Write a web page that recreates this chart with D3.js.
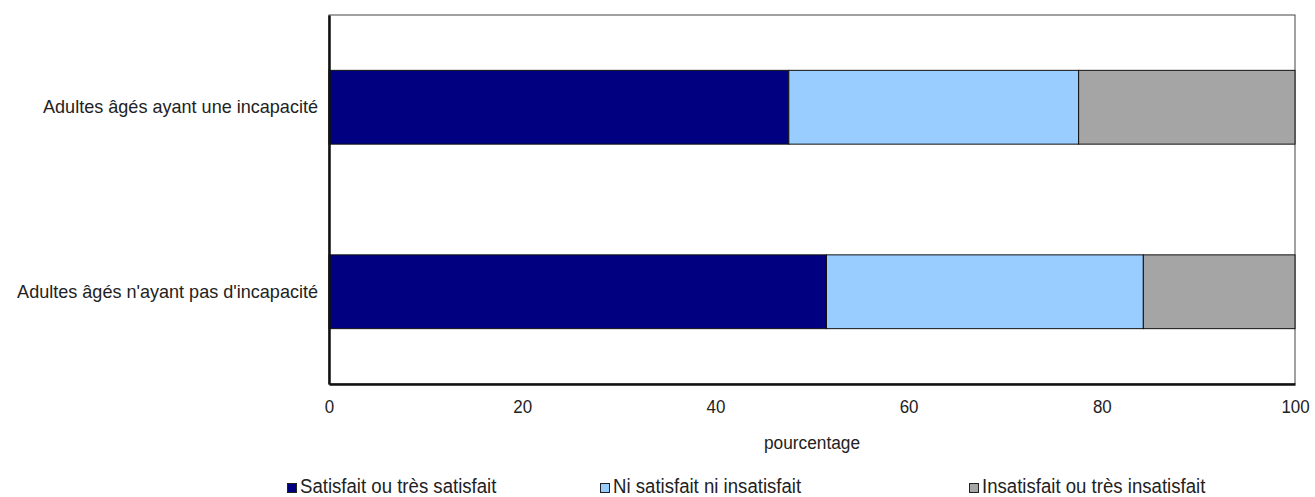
<!DOCTYPE html>
<html>
<head>
<meta charset="utf-8">
<script src="https://cdn.jsdelivr.net/npm/d3@7"></script>
<style>
  html, body { margin: 0; padding: 0; background: #fff; }
  svg text { font-family: "Liberation Sans", Arial, sans-serif; fill: #222; }
</style>
</head>
<body>
<svg id="chart" width="1315" height="497"></svg>
<script>
// Satisfaction levels by disability status (percent)
const categories = ["Adultes âgés ayant une incapacité", "Adultes âgés n'ayant pas d'incapacité"];
const seriesNames = ["Satisfait ou très satisfait", "Ni satisfait ni insatisfait", "Insatisfait ou très insatisfait"];
const satisfied = [47.6, 51.5];
const neutral = [30.0, 32.8];
const dissatisfied = [22.4, 15.7];
const xTicks = [0, 20, 40, 60, 80, 100];
const colors = ["#000080", "#99CCFF", "#A5A5A5"];

const rows = categories.map((c, i) => ({
  category: c,
  [seriesNames[0]]: satisfied[i],
  [seriesNames[1]]: neutral[i],
  [seriesNames[2]]: dissatisfied[i]
}));

const svg = d3.select("#chart");
const margin = { left: 329, right: 20, top: 15, bottom: 113 };
const W = 1315, H = 497;
const innerW = W - margin.left - margin.right;
const innerH = H - margin.top - margin.bottom;

const x = d3.scaleLinear().domain([0, 100]).range([margin.left, margin.left + innerW]);
const y = d3.scaleBand().domain(categories).range([margin.top, margin.top + innerH]).paddingInner(0.6).paddingOuter(0.3);
const color = d3.scaleOrdinal().domain(seriesNames).range(colors);

// Condensed look: squeeze each label horizontally
function condense(sel, k) {
  sel.each(function () {
    const len = this.getComputedTextLength();
    d3.select(this).attr("textLength", len * k).attr("lengthAdjust", "spacingAndGlyphs");
  });
}

// Plot frame (top and right edges)
svg.append("rect")
  .attr("x", margin.left).attr("y", margin.top)
  .attr("width", innerW).attr("height", innerH)
  .attr("fill", "none").attr("stroke", "#444").attr("stroke-width", 1);

const stacked = d3.stack().keys(seriesNames)(rows);

svg.append("g").selectAll("g")
  .data(stacked).join("g")
  .attr("fill", d => color(d.key))
  .selectAll("rect")
  .data(d => d).join("rect")
  .attr("x", d => x(d[0]))
  .attr("y", d => y(d.data.category))
  .attr("width", d => x(d[1]) - x(d[0]))
  .attr("height", y.bandwidth())
  .attr("stroke", "#111").attr("stroke-width", 1);

// X axis
const xAxis = svg.append("g")
  .attr("transform", `translate(0,${margin.top + innerH})`)
  .call(d3.axisBottom(x).tickValues(xTicks).tickSize(0).tickPadding(16));
xAxis.select(".domain").attr("stroke", "#111").attr("stroke-width", 2.5);
xAxis.selectAll("text").attr("font-size", 18).attr("fill", "#222").call(condense, 0.94);

// Y axis
const yAxis = svg.append("g")
  .attr("transform", `translate(${margin.left},0)`)
  .call(d3.axisLeft(y).tickSize(0).tickPadding(11));
yAxis.select(".domain").attr("stroke", "#111").attr("stroke-width", 2.5);
yAxis.selectAll("text").attr("font-size", 19).attr("fill", "#222").call(condense, 0.95);

// Axis title
svg.append("text")
  .attr("x", margin.left + innerW / 2).attr("y", 449)
  .attr("text-anchor", "middle").attr("font-size", 18)
  .text("pourcentage")
  .call(condense, 0.96);

// Legend
const legendX = [287, 600, 969];
const legend = svg.append("g").selectAll("g")
  .data(seriesNames).join("g")
  .attr("transform", (d, i) => `translate(${legendX[i]},483)`);
legend.append("rect")
  .attr("x", 0.5).attr("y", 0.5)
  .attr("width", 9).attr("height", 9)
  .attr("fill", d => color(d)).attr("stroke", "#222").attr("stroke-width", 1);
legend.append("text")
  .attr("x", 13).attr("y", 10)
  .attr("font-size", 20)
  .text(d => d)
  .call(condense, 0.93);
</script>
</body>
</html>
